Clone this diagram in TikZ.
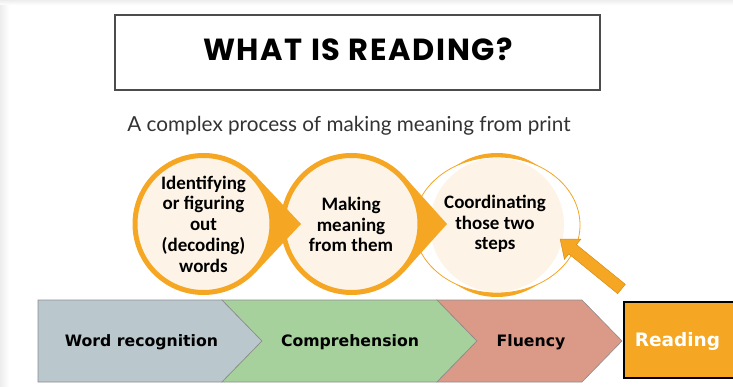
\documentclass[tikz,border=0pt]{standalone}
\usepackage{fontspec}
\setmainfont{Carlito}
\newfontfamily\titlefont{Poppins}[LetterSpace=5.5]
\newfontfamily\subfont{Lato}
\newfontfamily\verdfont{DejaVu Sans}
\definecolor{orng}{HTML}{F5A623}
\definecolor{orngdark}{HTML}{D98C12}
\definecolor{cream}{HTML}{FDF4E7}
\definecolor{wordc}{HTML}{BAC8CD}
\definecolor{compc}{HTML}{A6D19C}
\definecolor{fluc}{HTML}{DA9A87}
\definecolor{edgec}{HTML}{8C8C8C}
\definecolor{subc}{HTML}{333333}
\tikzset{
  ringstyle/.style={draw=orng, line width=5pt, fill=cream},
  tailstyle/.style={fill=orng},
  circtext/.style={font=\fontsize{19}{20.7}\selectfont\bfseries, align=center, text=black, inner sep=0pt},
  chevstyle/.style={draw=edgec, line width=0.6pt},
  chevtext/.style={font=\verdfont\fontsize{15.7}{18}\selectfont\bfseries, anchor=base, inner sep=0pt},
}
\begin{document}
\begin{tikzpicture}[x=1pt, y=-1pt]
\useasboundingbox (0,0) rectangle (733,387);
% slide edge shadows
\shade[left color=gray!14, right color=white] (0,0) rectangle (9,387);
\shade[top color=gray!14, bottom color=white] (0,0) rectangle (733,5);
% title
\node[draw=black!70, line width=1.5pt, minimum width=485pt, minimum height=75pt, inner sep=0pt] (titlebox) at (357.5,52.5) {};
\node[font=\titlefont\fontsize{30.5}{34}\selectfont\bfseries, anchor=base, inner sep=0pt] (title) at (358,61) {WHAT IS READING?};
\node[font=\subfont\fontsize{20.7}{24}\selectfont, text=subc, anchor=base, inner sep=0pt] (subtitle) at (349,132) {A complex process of making meaning from print};
% centres
\coordinate (c1) at (203.5,224);
\coordinate (c2) at (351.5,224);
\coordinate (c3) at (497,225);
% third circle
\draw[orng, line width=4pt] (c3) circle (70);
\draw[orng, line width=0.8pt, fill=white] (c3) ellipse (83 and 68);
\fill[cream] (c3) circle (67);
% second circle with tail
\fill[tailstyle] (447,224) -- (404.3,176.5) -- (c2) -- (404.3,271.5) -- cycle;
\draw[ringstyle] (c2) circle (68.5);
% first circle with tail
\fill[tailstyle] (301,224) -- (255.2,175.3) -- (c1) -- (255.2,272.7) -- cycle;
\draw[ringstyle] (c1) circle (68.5);
% circle texts
\node[circtext] (t1) at (c1) {Identifying\\or figuring\\out\\(decoding)\\words};
\node[circtext] (t2) at (351,224.5) {Making\\meaning\\from them};
\node[circtext] (t3) at (495,224) {Coordinating\\those two\\steps};
% big arrow
\filldraw[fill=orng, draw=orngdark, line width=0.5pt, line join=miter]
  (625.3,284.3) -- (576.4,244.6) -- (580.8,239.2) -- (560.2,239.2) -- (564.4,259.3) -- (568.8,253.9) -- (617.7,293.7) -- cycle;
% chevrons
\filldraw[chevstyle, fill=wordc] (38,300) -- (222,300) -- (262,341) -- (222,382) -- (38,382) -- cycle;
\filldraw[chevstyle, fill=compc] (222,300) -- (437,300) -- (477,341) -- (437,382) -- (222,382) -- (262,341) -- cycle;
\filldraw[chevstyle, fill=fluc] (437,300) -- (582,300) -- (622,341) -- (582,382) -- (437,382) -- (477,341) -- cycle;
\node[chevtext] (word) at (141.5,346) {Word recognition};
\node[chevtext] (comp) at (350,346) {Comprehension};
\node[chevtext] (flu) at (531,346) {Fluency};
% reading box
\node[draw=black, line width=2pt, fill=orng, minimum width=122pt, minimum height=76pt, anchor=north west, inner sep=0pt] (readbox) at (623,300.5) {};
\node[font=\verdfont\fontsize{18.5}{22}\selectfont\bfseries, text=white, anchor=base, inner sep=0pt] (reading) at (677.5,346) {Reading};
\end{tikzpicture}
\end{document}
